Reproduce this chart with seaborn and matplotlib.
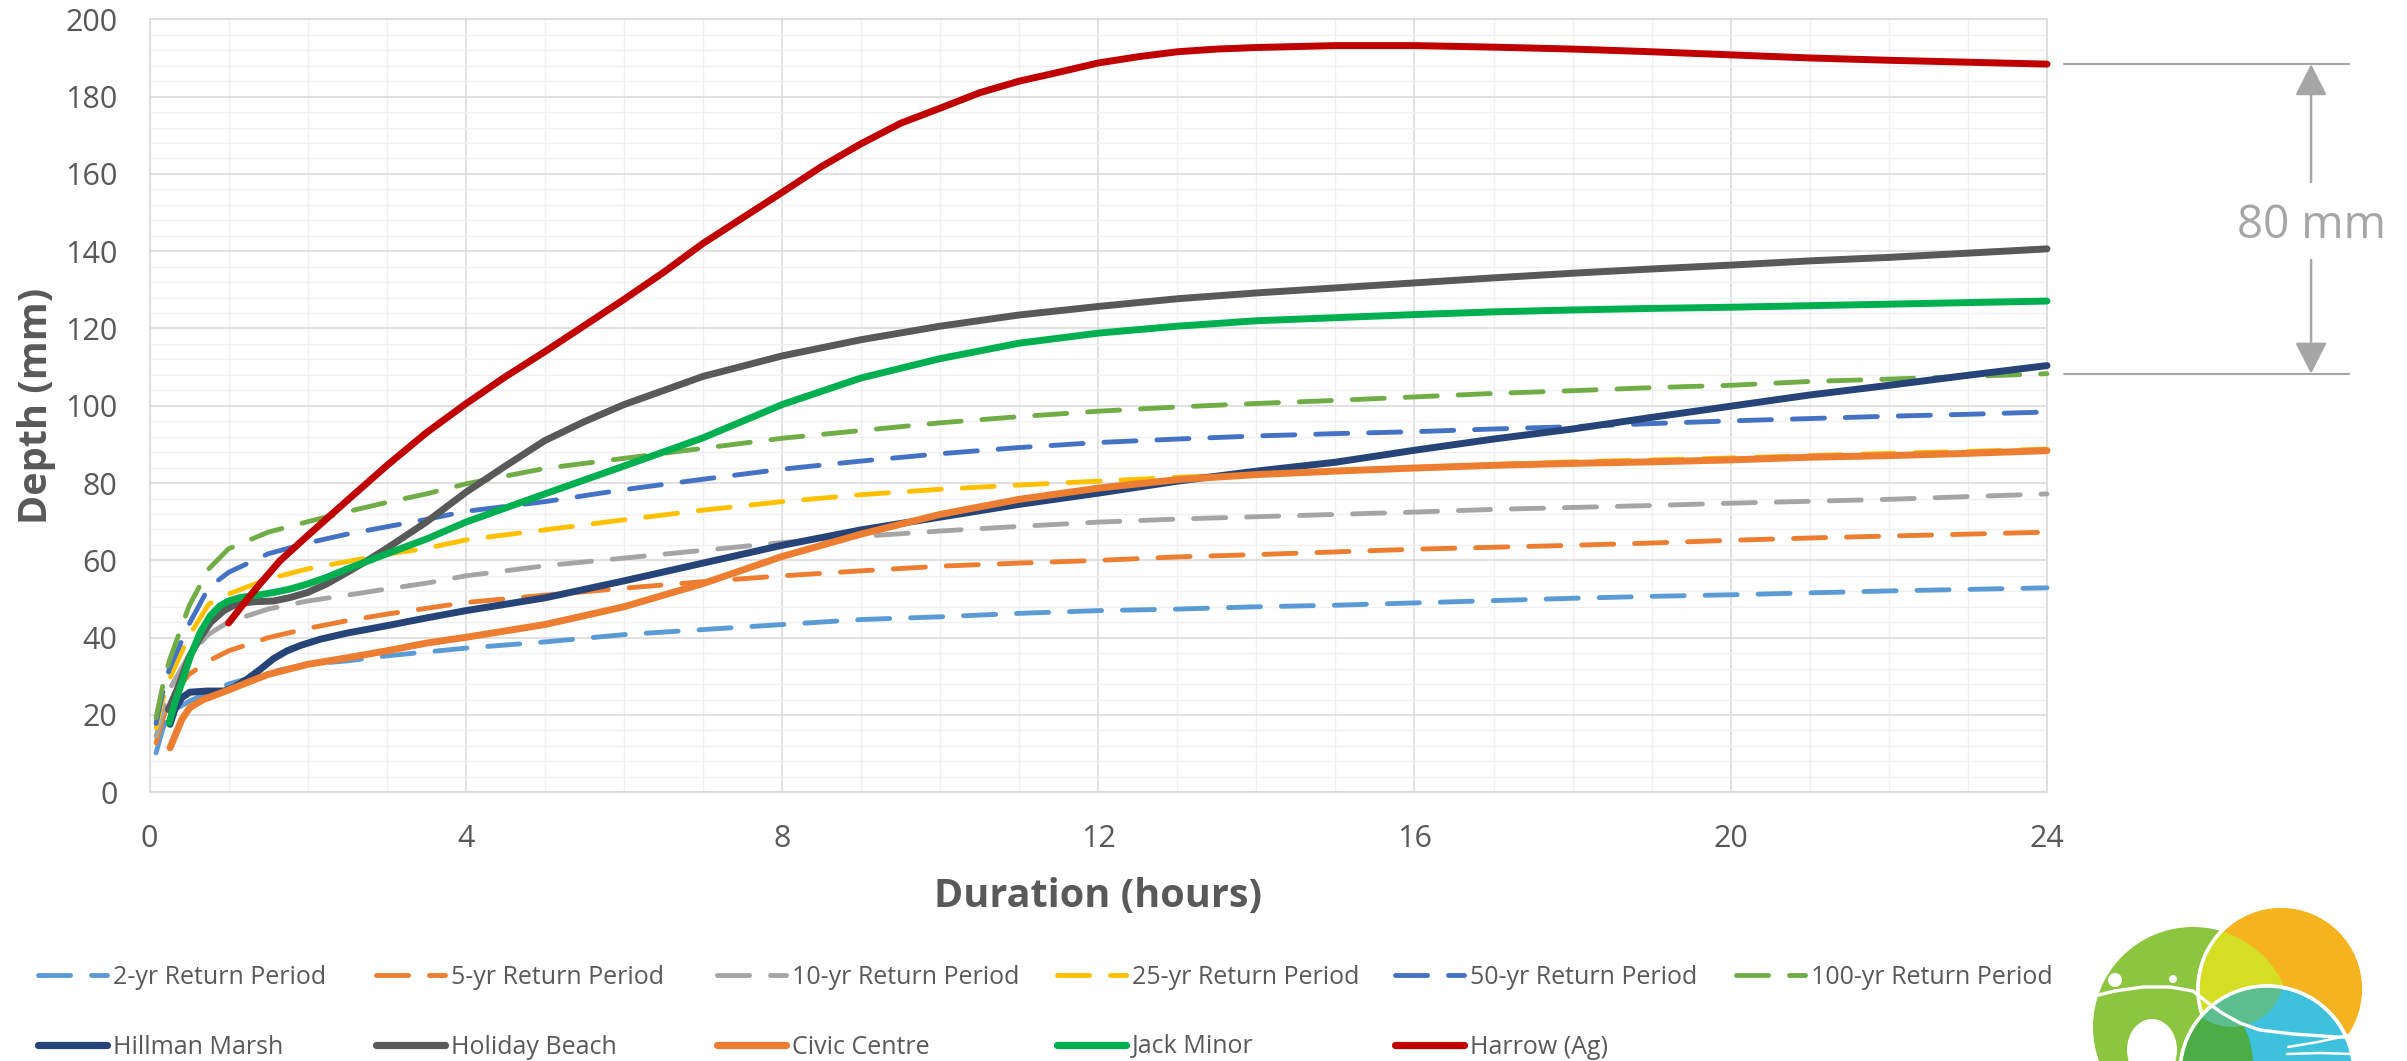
import numpy as np
import pandas as pd
import matplotlib
matplotlib.use("Agg")
import matplotlib.pyplot as plt
import seaborn as sns
from matplotlib.lines import Line2D
from matplotlib.patches import Circle, Ellipse
from matplotlib.ticker import MultipleLocator

# ---------------- data ----------------
IDF_HOURS = [0.083, 0.167, 0.25, 0.5, 0.75, 1, 1.5, 2, 2.5, 3, 3.5, 4,
             5, 6, 7, 8, 9, 10, 11, 12, 13, 14, 15, 16, 17, 18, 19, 20, 21, 22, 23, 24]
YR2 = [10.2, 16.3, 20.6, 23.5, 26, 28, 31, 33.1, 34, 35.3, 36.3, 37.3,
       38.9, 40.8, 42.1, 43.4, 44.7, 45.4, 46.3, 47,
       47.4, 48, 48.4, 49, 49.6, 50.2, 50.7, 51.1, 51.6, 52.1, 52.5, 52.9]
YR5 = [12.8, 18.9, 24, 30.5, 34, 36.6, 40, 42.4, 44.4, 46.1, 47.6, 49.1,
       51, 52.8, 54.5, 56, 57.3, 58.5, 59.3, 60,
       60.9, 61.5, 62.2, 62.9, 63.4, 63.9, 64.5, 65.2, 65.8, 66.3, 66.8, 67.3]
YR10 = [14.5, 21, 26.5, 35.5, 40.9, 44.1, 47.4, 49.5, 51, 52.6, 54.1, 56,
        58.6, 60.6, 62.6, 64.6, 66.2, 67.6, 68.8, 69.9,
        70.7, 71.3, 71.9, 72.5, 73.2, 73.7, 74.2, 74.8, 75.3, 75.8, 76.5, 77.2]
YR25 = [16.7, 24, 29.2, 40.5, 48.7, 51.3, 55.2, 57.8, 59.7, 61.6, 63.1, 65.3,
        67.9, 70.5, 73, 75.2, 77, 78.4, 79.5, 80.5,
        81.5, 82.3, 83.2, 84, 84.8, 85.5, 86, 86.5, 87.1, 87.7, 88.2, 88.8]
YR50 = [17.8, 25.8, 31.8, 43.5, 53, 56.9, 61.7, 64.5, 66.8, 68.7, 70.6, 72.7,
        75.2, 78.3, 81, 83.6, 85.7, 87.6, 89.2, 90.5,
        91.4, 92.2, 92.8, 93.3, 94, 94.6, 95.4, 96.1, 96.7, 97.3, 97.8, 98.4]
YR100 = [19.3, 27.5, 34, 48.2, 57.8, 63, 67.3, 70, 72.6, 75, 77.2, 79.8,
         83.8, 86.4, 89, 91.6, 93.6, 95.6, 97.2, 98.6,
         99.7, 100.6, 101.4, 102.3, 103.2, 103.9, 104.7, 105.3, 106.3, 106.9, 107.6, 108.3]

HILLMAN_H = [0.26, 0.32, 0.41, 0.51, 0.73, 0.94, 1.06, 1.23, 1.4, 1.57, 1.74, 1.91, 2.16, 2.5, 3, 3.5, 4,
             5, 6, 7, 8, 9, 10, 11, 12, 13, 14, 15, 16, 17, 18, 19, 20, 21, 22, 23, 24]
HILLMAN_D = [17.6, 21.4, 24.5, 25.9, 26.2, 26.2, 27.1, 29.2, 31.8, 34.6, 36.6, 38, 39.6, 41.2, 43.1, 45.1, 47,
             50.3, 54.7, 59.3, 63.9, 67.9, 71.2, 74.5, 77.4,
             80.5, 83.1, 85.4, 88.5, 91.4, 94, 97, 99.9, 102.8, 105.3, 107.9, 110.4]
HOLIDAY_H = [0.24, 0.35, 0.51, 0.64, 0.77, 0.94, 1.1, 1.32, 1.57, 1.78, 2, 2.24, 2.5, 2.75, 3, 3.5, 4, 4.5,
             5, 5.5, 6, 7, 8, 9, 10, 11, 12, 13, 14, 15, 16, 17, 18, 19, 20, 21, 22, 23, 24]
HOLIDAY_D = [21.4, 26.6, 35.3, 40, 43.9, 47, 48.7, 49.3, 49.5, 50.4, 51.7, 53.9, 56.9, 59.9, 63.1, 69.9, 77.6, 84.4,
             91, 95.9, 100.3, 107.6, 112.9, 117.1, 120.6, 123.5, 125.7,
             127.7, 129.2, 130.5, 131.8, 133.1, 134.3, 135.4, 136.4, 137.5, 138.4, 139.5, 140.6]
CIVIC_H = [0.26, 0.32, 0.41, 0.51, 0.68, 0.89, 1.15, 1.5, 2, 2.5, 3, 3.5, 4,
           5, 6, 7, 8, 9, 10, 11, 12, 13, 14, 15, 16, 17, 18, 19, 20, 21, 22, 23, 24]
CIVIC_D = [11.5, 14.5, 18.9, 21.9, 24, 25.6, 27.7, 30.5, 33.1, 34.8, 36.6, 38.6, 40.1,
           43.4, 48, 54, 61, 66.8, 71.9, 75.8, 78.7,
           80.9, 82.2, 83.1, 83.9, 84.6, 85.1, 85.5, 86, 86.7, 87.1, 87.7, 88.4]
JACK_H = [0.25, 0.32, 0.41, 0.51, 0.64, 0.77, 0.89, 1, 1.15, 1.36, 1.57, 1.78, 2, 2.24, 2.5, 3, 3.5, 4,
          5, 6, 7, 8, 9, 10, 11, 12, 13, 14, 15, 16, 17, 18, 19, 20, 21, 22, 23, 24]
JACK_D = [18, 23.2, 28.4, 34.8, 41.3, 45.7, 48.2, 49.5, 50.4, 51, 51.7, 52.6, 53.9, 55.6, 57.8, 61.7, 65.5, 69.9,
          77.2, 84.4, 91.7, 100.3, 107.2, 112.2, 116.2, 118.8,
          120.6, 122, 122.8, 123.6, 124.3, 124.8, 125.2, 125.5, 125.9, 126.3, 126.7, 127.1]
HARROW_H = [1, 1.2, 1.4, 1.65, 2, 2.5, 3, 3.5, 4, 4.5, 5, 6, 6.5, 7, 7.5,
            8, 8.5, 9, 9.5, 10, 10.5, 11, 11.5, 12, 12.5, 13, 13.5, 14,
            15, 16, 17, 18, 19, 20, 21, 22, 23, 24]
HARROW_D = [43.8, 49, 54, 59.9, 66.4, 75.5, 84.5, 93, 100.5, 107.5, 114, 127.5, 134.5, 142, 148.6,
            155.2, 161.9, 167.8, 173.1, 177, 181, 184, 186.3, 188.7, 190.3, 191.6, 192.3, 192.7,
            193.2, 193.2, 192.8, 192.3, 191.6, 190.8, 190, 189.4, 188.9, 188.4]

DASHED_NAMES = ["2-yr Return Period", "5-yr Return Period", "10-yr Return Period",
                "25-yr Return Period", "50-yr Return Period", "100-yr Return Period"]
DASHED_VALUES = [YR2, YR5, YR10, YR25, YR50, YR100]
DASHED_COLORS = ["#5B9BD5", "#ED7D31", "#A5A5A5", "#FFC000", "#4472C4", "#70AD47"]

SOLID_NAMES = ["Hillman Marsh", "Holiday Beach", "Civic Centre", "Jack Minor", "Harrow (Ag)"]
SOLID_HOURS = [HILLMAN_H, HOLIDAY_H, CIVIC_H, JACK_H, HARROW_H]
SOLID_VALUES = [HILLMAN_D, HOLIDAY_D, CIVIC_D, JACK_D, HARROW_D]
SOLID_COLORS = ["#264478", "#595959", "#ED7D31", "#00B050", "#C00000"]

X_TICKS = [0, 4, 8, 12, 16, 20, 24]
Y_TICKS = [0, 20, 40, 60, 80, 100, 120, 140, 160, 180, 200]

# ---------------- style ----------------
sns.set_theme(style="white")
plt.rcParams["font.family"] = ["Open Sans", "DejaVu Sans"]

W, H = 2407, 1061
fig = plt.figure(figsize=(W / 100, H / 100), dpi=100)
ax_l, ax_r, ax_t, ax_b = 149.5, 2047, 19.3, 792.3
ax = fig.add_axes([ax_l / W, 1 - ax_b / H, (ax_r - ax_l) / W, (ax_b - ax_t) / H])

TXT = "#595959"
DASH = (0, (6.6, 4.3))
DLW, SLW = 3.5, 5.0

for name, vals, col in zip(DASHED_NAMES, DASHED_VALUES, DASHED_COLORS):
    df = pd.DataFrame({"hours": IDF_HOURS, "depth": vals})
    sns.lineplot(data=df, x="hours", y="depth", ax=ax, color=col, lw=DLW,
                 linestyle=DASH, dash_capstyle="round", dash_joinstyle="round",
                 estimator=None, sort=False,
                 errorbar=None, legend=False, clip_on=False, zorder=3)

for name, hrs, vals, col in zip(SOLID_NAMES, SOLID_HOURS, SOLID_VALUES, SOLID_COLORS):
    df = pd.DataFrame({"hours": hrs, "depth": vals})
    sns.lineplot(data=df, x="hours", y="depth", ax=ax, color=col, lw=SLW,
                 solid_capstyle="round", solid_joinstyle="round", estimator=None, sort=False,
                 errorbar=None, legend=False, clip_on=False, zorder=4)

ax.set_xlim(0, 24)
ax.set_ylim(0, 200)
ax.set_xticks(X_TICKS)
ax.set_yticks(Y_TICKS)
ax.xaxis.set_minor_locator(MultipleLocator(1))
ax.yaxis.set_minor_locator(MultipleLocator(4))
ax.set_axisbelow(True)
ax.grid(which="minor", color="#F0F0F0", lw=1.0)
ax.grid(which="major", color="#D9D9D9", lw=1.1)
for s in ax.spines.values():
    s.set_color("#D9D9D9")
    s.set_linewidth(1.1)
ax.tick_params(which="major", length=8, width=1.1, color="#D9D9D9", direction="out",
               labelsize=22, labelcolor=TXT, pad=15)
ax.tick_params(which="minor", length=0)

ax.set_xlabel("Duration (hours)", fontsize=28.5, fontweight="bold", color=TXT)
ax.set_ylabel("Depth (mm)", fontsize=28.5, fontweight="bold", color=TXT)
ax.xaxis.set_label_coords(0.5, -0.109)
ax.yaxis.set_label_coords(-0.0495, 0.5)

# ---------------- 80 mm annotation ----------------
top, bot = HARROW_D[-1], YR100[-1]
GRAY = "#A6A6A6"
ax.plot([24.22, 27.82], [top, top], color=GRAY, lw=1.5, clip_on=False)
ax.plot([24.22, 27.82], [bot, bot], color=GRAY, lw=1.5, clip_on=False)
ax.text(27.34, 143.3, f"{round(top - bot)} mm", ha="center", va="baseline",
        fontsize=33, color=GRAY, clip_on=False)
aprops = dict(arrowstyle="-|>,head_length=0.65,head_width=0.33", color=GRAY, lw=1.8,
              mutation_scale=30, shrinkA=0, shrinkB=0)
ax.annotate("", xy=(27.34, top), xytext=(27.34, 157.9), arrowprops=aprops, annotation_clip=False)
ax.annotate("", xy=(27.34, bot), xytext=(27.34, 137.7), arrowprops=aprops, annotation_clip=False)

# ---------------- legend (Excel-like grid) ----------------
LEG_COL_X = [38, 376, 717, 1057, 1395, 1736]
LEG_ROW_Y = [977, 1047]
for i, (name, col) in enumerate(zip(DASHED_NAMES, DASHED_COLORS)):
    h = Line2D([], [], color=col, lw=3.5, linestyle=DASH, dash_capstyle="round")
    fig.legend(handles=[h], labels=[name], loc="center left",
               bbox_to_anchor=(LEG_COL_X[i] / W, 1 - LEG_ROW_Y[0] / H),
               frameon=False, fontsize=18, handlelength=2.75, handletextpad=0.25,
               borderpad=0, borderaxespad=0, labelcolor=TXT)
for i, (name, col) in enumerate(zip(SOLID_NAMES, SOLID_COLORS)):
    h = Line2D([], [], color=col, lw=5.2, solid_capstyle="round")
    fig.legend(handles=[h], labels=[name], loc="center left",
               bbox_to_anchor=(LEG_COL_X[i] / W, 1 - LEG_ROW_Y[1] / H),
               frameon=False, fontsize=18, handlelength=2.75, handletextpad=0.25,
               borderpad=0, borderaxespad=0, labelcolor=TXT)

# ---------------- logo (decorative) ----------------
lx0, ly0 = 2060, 880
lax = fig.add_axes([lx0 / W, 0, (W - lx0) / W, (H - ly0) / H])
lax.set_xlim(lx0, W)
lax.set_ylim(H, ly0)
lax.axis("off")
T = lax.transData

def circ(c, r, fc, ec="none", lw=0, z=1):
    p = Circle(c, r, fc=fc, ec=ec, lw=lw, zorder=z, transform=T)
    lax.add_patch(p)
    return p

A_c, A_r = (2193, 1027), 100
B_c, B_r = (2281, 989), 83
C_c, C_r = (2267, 1073), 87
circ(A_c, A_r, "#8CC540", z=1)
lax.add_patch(Ellipse((2152, 1050), 50, 62, fc="white", ec="none", zorder=1.5, transform=T))
circ(B_c, B_r, "#F5B320", "white", 2.5, z=2)
clipB = Circle(B_c, B_r, transform=T)
yg = circ(A_c, A_r, "#D5DE24", z=2.1)
yg.set_clip_path(clipB)
circ(B_c, B_r, "none", "white", 2.5, z=2.2)
circ(C_c, C_r, "#3DC1DC", "white", 2.5, z=3)
clipC = Circle(C_c, C_r, transform=T)
dg = circ((2165, 1065), 88, "#4CAD47", z=3.1)
dg.set_clip_path(clipC)
clipC2 = Circle(C_c, C_r, transform=T)
tl = circ((2232, 975), 52, "#5CBD8E", z=3.2)
tl.set_clip_path(clipC2)
circ(C_c, C_r, "none", "white", 2.5, z=3.3)
wave_x = [2090, 2115, 2143, 2170, 2193, 2208, 2222, 2240, 2260, 2293, 2337, 2355]
wave_y = [997, 991, 987, 987, 991, 1003, 1013, 1023, 1030, 1034, 1037, 1037]
lax.plot(wave_x, wave_y, color="white", lw=2.4, zorder=4, solid_capstyle="round")
lax.plot([2288, 2318, 2350], [1047, 1042, 1035], color="white", lw=1.8, zorder=4)
lax.plot([2287, 2320, 2352], [1054, 1053, 1054], color="white", lw=1.8, zorder=4)
circ((2115, 980), 7, "white", z=4)
circ((2173, 979), 4, "white", z=4)

fig.savefig("out.png", dpi=100)
